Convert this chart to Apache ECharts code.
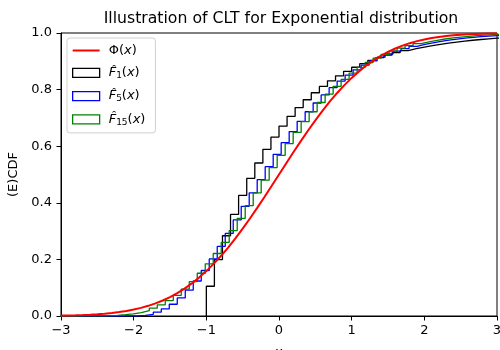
<!DOCTYPE html>
<html><head><meta charset="utf-8">
<script src="https://cdn.jsdelivr.net/npm/echarts@6/dist/echarts.min.js"></script>
<style>html,body{margin:0;padding:0;background:#fff}#c{width:500px;height:350px}</style>
</head><body><div id="c"></div>
<script>
// ---- data ----
var phiX = [-3.0,-2.9,-2.8,-2.7,-2.6,-2.5,-2.4,-2.3,-2.2,-2.1,-2.0,-1.9,-1.8,-1.7,-1.6,-1.5,-1.4,-1.3,-1.2,-1.1,-1.0,-0.9,-0.8,-0.7,-0.6,-0.5,-0.4,-0.3,-0.2,-0.1,0.0,0.1,0.2,0.3,0.4,0.5,0.6,0.7,0.8,0.9,1.0,1.1,1.2,1.3,1.4,1.5,1.6,1.7,1.8,1.9,2.0,2.1,2.2,2.3,2.4,2.5,2.6,2.7,2.8,2.9,3.0];
var phiY = [0.00135,0.00187,0.00256,0.00347,0.00466,0.00621,0.00820,0.01072,0.01390,0.01786,0.02275,0.02872,0.03593,0.04457,0.05480,0.06681,0.08076,0.09680,0.11507,0.13567,0.15866,0.18406,0.21186,0.24196,0.27425,0.30854,0.34458,0.38209,0.42074,0.46017,0.5,0.53983,0.57926,0.61791,0.65542,0.69146,0.72575,0.75804,0.78814,0.81594,0.84134,0.86433,0.88493,0.90320,0.91924,0.93319,0.94520,0.95543,0.96407,0.97128,0.97725,0.98214,0.98610,0.98928,0.99180,0.99379,0.99534,0.99653,0.99744,0.99813,0.99865];

var f1Edges = [-1.0,-0.889,-0.778,-0.667,-0.556,-0.444,-0.333,-0.222,-0.111,0.0,0.111,0.222,0.333,0.444,0.556,0.667,0.778,0.889,1.0,1.111,1.222,1.333,1.444,1.556,1.667,1.778,1.889,2.0,2.111,2.222,2.333,2.444,2.556,2.667,2.778,2.889,3.0,3.111];
var f1Vals = [0,0.1052,0.1993,0.2835,0.3588,0.4262,0.4866,0.5406,0.5889,0.6321,0.6708,0.7054,0.7364,0.7641,0.7889,0.8111,0.8310,0.8488,0.8647,0.8789,0.8916,0.9030,0.9132,0.9223,0.9305,0.9378,0.9444,0.9502,0.9554,0.9601,0.9643,0.9681,0.9714,0.9744,0.9771,0.9795,0.9817,0.9837];

var f5Edges = [-3.05,-2.94,-2.83,-2.72,-2.61,-2.50,-2.39,-2.28,-2.17,-2.06,-1.95,-1.84,-1.73,-1.62,-1.51,-1.40,-1.29,-1.18,-1.07,-0.96,-0.85,-0.74,-0.63,-0.52,-0.41,-0.30,-0.19,-0.08,0.03,0.14,0.25,0.36,0.47,0.58,0.69,0.80,0.91,1.02,1.13,1.24,1.35,1.46,1.57,1.68,1.79,1.90,2.01,2.12,2.23,2.34,2.45,2.56,2.67,2.78,2.89,3.00,3.11];
var f5Vals = [0,0,0,0,0,0,0,0,0.0000,0.0001,0.0005,0.0022,0.0061,0.0134,0.0250,0.0416,0.0637,0.0911,0.1236,0.1607,0.2017,0.2457,0.2919,0.3394,0.3874,0.4352,0.4821,0.5276,0.5712,0.6126,0.6516,0.6880,0.7217,0.7527,0.7811,0.8069,0.8302,0.8511,0.8699,0.8866,0.9014,0.9146,0.9261,0.9362,0.9451,0.9529,0.9596,0.9654,0.9705,0.9748,0.9786,0.9818,0.9846,0.9870,0.9890,0.9907,0.9922];

var f15Edges = [-3.105,-2.995,-2.885,-2.775,-2.665,-2.555,-2.445,-2.335,-2.225,-2.115,-2.005,-1.895,-1.785,-1.675,-1.565,-1.455,-1.345,-1.235,-1.125,-1.015,-0.905,-0.795,-0.685,-0.575,-0.465,-0.355,-0.245,-0.135,-0.025,0.085,0.195,0.305,0.415,0.525,0.635,0.745,0.855,0.965,1.075,1.185,1.295,1.405,1.515,1.625,1.735,1.845,1.955,2.065,2.175,2.285,2.395,2.505,2.615,2.725,2.835,2.945,3.055];
var f15Vals = [0,0,0,0,0.0001,0.0003,0.0006,0.0013,0.0025,0.0045,0.0076,0.0122,0.0188,0.0277,0.0395,0.0545,0.0730,0.0952,0.1213,0.1510,0.1843,0.2209,0.2602,0.3019,0.3453,0.3899,0.4350,0.4800,0.5244,0.5677,0.6094,0.6491,0.6867,0.7218,0.7544,0.7843,0.8116,0.8363,0.8585,0.8782,0.8957,0.9111,0.9246,0.9363,0.9464,0.9551,0.9626,0.9689,0.9743,0.9788,0.9825,0.9857,0.9883,0.9905,0.9923,0.9938,0.9950];

var titleText = 'Illustration of CLT for Exponential distribution';
var names = ['Φ(x)', 'F̂1(x)', 'F̂5(x)', 'F̂15(x)'];

function pairs(xs, ys){ return xs.map(function(x,i){ return [x, ys[i]]; }); }

var FONT = 'DejaVu Sans';
var chart = echarts.init(document.getElementById('c'), null, {renderer:'canvas'});
function legendFmt(name){
  if (name === names[0]) return '{n|Φ(}{i|x}{n|)}';
  var sub = name === names[1] ? '1' : (name === names[2] ? '5' : '15');
  return '{i|F̂}{s|' + sub + '}{n|(}{i|x}{n|)}';
}
var rectIcon = function(c){ return {color:'rgba(255,255,255,0)', borderColor:c, borderWidth:1.3}; };
chart.setOption({
  animation:false,
  backgroundColor:'#fff',
  textStyle:{fontFamily:FONT},
  title:{text:titleText, left:276, top:6, textAlign:'center',
    textStyle:{fontFamily:FONT, fontSize:15.7, fontWeight:'normal', color:'#000'}},
  grid:{left:61, right:3, top:33, bottom:34, outerBoundsMode:'none', containLabel:false,
    show:true, borderColor:'#000', borderWidth:1, backgroundColor:'transparent'},
  legend:{
    orient:'vertical', left:67, top:38, itemWidth:27, itemHeight:9, itemGap:9.3,
    padding:[6,10,6,5], backgroundColor:'rgba(255,255,255,0.8)', borderColor:'#d0d0d0', borderWidth:1, borderRadius:3,
    symbolKeepAspect:true,
    data:[
      {name:names[0], icon:'path://M0,0L27,0L27,2L0,2Z', itemStyle:{color:'#ff0000', borderWidth:0}},
      {name:names[1], icon:'rect', itemStyle:rectIcon('#000')},
      {name:names[2], icon:'rect', itemStyle:rectIcon('#0000ff')},
      {name:names[3], icon:'rect', itemStyle:rectIcon('#008000')}
    ],
    formatter:legendFmt,
    textStyle:{fontFamily:FONT, fontSize:13, color:'#000', padding:[0,0,0,4],
      rich:{
        n:{fontFamily:FONT, fontSize:13, color:'#000'},
        i:{fontFamily:FONT, fontSize:13, fontStyle:'italic', color:'#000'},
        s:{fontFamily:FONT, fontSize:9, color:'#000', verticalAlign:'bottom', padding:[6,0,0,0]}
      }}
  },
  xAxis:{type:'value', min:-3, max:3, interval:1,
    name:'x', nameLocation:'middle', nameGap:30, nameMoveOverlap:false,
    nameTextStyle:{fontFamily:FONT, fontSize:13, color:'#000'},
    axisLine:{show:true, onZero:false, lineStyle:{color:'#000', width:1}},
    axisTick:{show:true, length:4.5, lineStyle:{color:'#000'}},
    axisLabel:{fontFamily:FONT, fontSize:13, color:'#000', margin:8,
      formatter:function(v){ return String(v).replace('-', '\u2212'); }},
    splitLine:{show:false}},
  yAxis:{type:'value', min:0, max:1, interval:0.2,
    name:'(E)CDF', nameLocation:'middle', nameGap:37, nameTextStyle:{fontFamily:FONT, fontSize:13, color:'#000'},
    axisLine:{show:true, onZero:false, lineStyle:{color:'#000', width:1}},
    axisTick:{show:true, length:4.5, lineStyle:{color:'#000'}},
    axisLabel:{fontFamily:FONT, fontSize:13, color:'#000', margin:9,
      formatter:function(v){ return v.toFixed(1); }},
    splitLine:{show:false}},
  series:[
    {name:names[1], type:'line', step:'start', symbol:'none', data:pairs(f1Edges, f1Vals), z:2,
      lineStyle:{color:'#000', width:1.3}, itemStyle:{color:'#000'}},
    {name:names[2], type:'line', step:'start', symbol:'none', data:pairs(f5Edges, f5Vals), z:3,
      lineStyle:{color:'#0000ff', width:1.3}, itemStyle:{color:'#0000ff'}},
    {name:names[3], type:'line', step:'start', symbol:'none', data:pairs(f15Edges, f15Vals), z:4,
      lineStyle:{color:'#008000', width:1.3}, itemStyle:{color:'#008000'}},
    {name:names[0], type:'line', symbol:'none', smooth:false, data:pairs(phiX, phiY), z:5,
      lineStyle:{color:'#ff0000', width:2}, itemStyle:{color:'#ff0000'}}
  ]
});
</script></body></html>
